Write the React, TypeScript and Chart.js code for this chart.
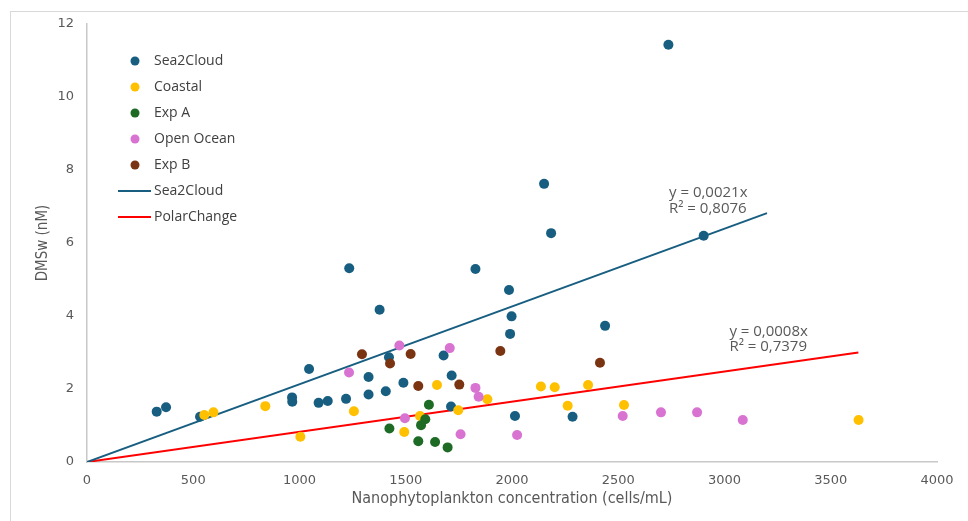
import { useEffect, useRef } from 'react';
import { Chart, registerables } from 'chart.js';

Chart.register(...registerables);

// ---------- data ----------
const seriesNames = ['Sea2Cloud', 'Coastal', 'Exp A', 'Open Ocean', 'Exp B'];
const seriesColors = ['#175e80', '#ffc000', '#1e6b26', '#d873d2', '#7a3412'];

const sea2cloudX = [328, 372, 532, 965, 966, 1045, 1090, 1133, 1219, 1234, 1325, 1325, 1377, 1406, 1421, 1489, 1678, 1716, 1713, 1828, 1986, 1998, 1991, 2014, 2151, 2184, 2285, 2438, 2736, 2902];
const sea2cloudY = [1.38, 1.50, 1.24, 1.77, 1.65, 2.55, 1.62, 1.67, 1.73, 5.31, 2.33, 1.85, 4.17, 1.94, 2.87, 2.17, 2.92, 2.37, 1.52, 5.29, 4.71, 3.99, 3.51, 1.26, 7.62, 6.27, 1.24, 3.73, 11.43, 6.20];

const coastalX = [552, 595, 839, 1004, 1256, 1493, 1567, 1647, 1747, 1884, 2136, 2201, 2262, 2358, 2527, 3631];
const coastalY = [1.29, 1.36, 1.53, 0.69, 1.39, 0.82, 1.26, 2.11, 1.42, 1.72, 2.07, 2.05, 1.54, 2.11, 1.56, 1.15];

const expAX = [1423, 1559, 1572, 1592, 1609, 1638, 1697];
const expAY = [0.92, 0.57, 1.01, 1.17, 1.57, 0.55, 0.40];

const openOceanX = [1233, 1470, 1496, 1707, 1758, 1828, 1843, 2024, 2521, 2701, 2871, 3086];
const openOceanY = [2.45, 3.19, 1.20, 3.12, 0.76, 2.03, 1.79, 0.74, 1.26, 1.36, 1.36, 1.15];

const expBX = [1294, 1426, 1523, 1559, 1752, 1945, 2414];
const expBY = [2.95, 2.70, 2.96, 2.08, 2.12, 3.04, 2.72];

const trendNames = ['Sea2Cloud', 'PolarChange'];
const trendColors = ['#175e80', '#ff0000'];
const sea2cloudTrendX = [0, 3200];
const sea2cloudTrendY = [0, 6.82];
const polarTrendX = [0, 3630];
const polarTrendY = [0, 3.0];
const trendLabels = [
  ['y = 0,0021x', 'R² = 0,8076'],
  ['y = 0,0008x', 'R² = 0,7379'],
];

const xTicks = [0, 500, 1000, 1500, 2000, 2500, 3000, 3500, 4000];
const yTicks = [0, 2, 4, 6, 8, 10, 12];
const xTitle = 'Nanophytoplankton concentration (cells/mL)';
const yTitle = 'DMSw (nM)';

// ---------- helpers ----------
const pts = (xs: number[], ys: number[]) => xs.map((x, i) => ({ x, y: ys[i] }));

const TICK_FONT = "'DejaVu Sans', sans-serif";
const TITLE_FONT = "'DejaVu Sans Condensed', 'Liberation Sans Narrow', sans-serif";
const TEXT_FONT = "'Open Sans', 'DejaVu Sans', sans-serif";

const legendPlugin = {
  id: 'customLegend',
  afterDraw(chart: any) {
    const ctx = chart.ctx;
    const a = chart.chartArea;
    const x0 = a.left + 48;
    const y0 = a.top + 37;
    const step = 26;
    ctx.save();
    ctx.font = `14px ${TEXT_FONT}`;
    ctx.textBaseline = 'middle';
    ctx.textAlign = 'left';
    seriesNames.forEach((n, i) => {
      const y = y0 + i * step;
      ctx.fillStyle = seriesColors[i];
      ctx.beginPath();
      ctx.arc(x0, y, 4.5, 0, Math.PI * 2);
      ctx.fill();
      ctx.fillStyle = '#404040';
      ctx.fillText(n, x0 + 19, y);
    });
    trendNames.forEach((n, i) => {
      const y = y0 + (seriesNames.length + i) * step;
      ctx.strokeStyle = trendColors[i];
      ctx.lineWidth = 2;
      ctx.beginPath();
      ctx.moveTo(x0 - 17, y);
      ctx.lineTo(x0 + 16, y);
      ctx.stroke();
      ctx.fillStyle = '#404040';
      ctx.fillText(n, x0 + 19, y);
    });
    ctx.restore();
  },
};

const trendLabelOffsets = [
  { dx: -98, dy: -20 },
  { dx: -129, dy: -21 },
];
const trendEnds = [
  { x: sea2cloudTrendX[1], y: sea2cloudTrendY[1] },
  { x: polarTrendX[1], y: polarTrendY[1] },
];

const annotationPlugin = {
  id: 'trendLabels',
  afterDraw(chart: any) {
    const ctx = chart.ctx;
    const xs = chart.scales.x;
    const ys = chart.scales.y;
    ctx.save();
    ctx.font = `15px ${TEXT_FONT}`;
    ctx.fillStyle = '#595959';
    ctx.textBaseline = 'middle';
    ctx.textAlign = 'left';
    trendEnds.forEach((e, i) => {
      const px = xs.getPixelForValue(e.x) + trendLabelOffsets[i].dx;
      const py = ys.getPixelForValue(e.y) + trendLabelOffsets[i].dy;
      trendLabels[i].forEach((t, j) => ctx.fillText(t, px, py + j * 15.5));
    });
    ctx.restore();
  },
};

export default function App() {
  const ref = useRef<HTMLCanvasElement | null>(null);

  useEffect(() => {
    if (!ref.current) return;
    const scatterSets = [
      [sea2cloudX, sea2cloudY],
      [coastalX, coastalY],
      [expAX, expAY],
      [openOceanX, openOceanY],
      [expBX, expBY],
    ].map(([xs, ys], i) => ({
      type: 'scatter' as const,
      label: seriesNames[i],
      data: pts(xs, ys),
      backgroundColor: seriesColors[i],
      borderColor: seriesColors[i],
      pointRadius: 5,
      pointBorderWidth: 0,
      order: 5 - i,
    }));
    const lineSets = [
      [sea2cloudTrendX, sea2cloudTrendY],
      [polarTrendX, polarTrendY],
    ].map(([xs, ys], i) => ({
      type: 'line' as const,
      label: trendNames[i],
      data: pts(xs, ys),
      borderColor: trendColors[i],
      backgroundColor: trendColors[i],
      borderWidth: 2,
      pointRadius: 0,
      fill: false,
      order: 10 + i,
    }));

    const chart = new Chart(ref.current, {
      type: 'scatter',
      data: { datasets: [...scatterSets, ...lineSets] as any },
      options: {
        animation: false,
        responsive: false,
        layout: { padding: { left: 0, top: 24, right: 31, bottom: 0 } },
        plugins: { legend: { display: false }, tooltip: { enabled: false } },
        scales: {
          x: {
            type: 'linear',
            min: 0,
            max: 4000,
            afterBuildTicks: (s: any) => { s.ticks = xTicks.map((v) => ({ value: v })); },
            grid: { display: false, drawTicks: false },
            border: { display: true, color: '#c8c8c8', width: 1.5 },
            ticks: { color: '#595959', font: { size: 13, family: TICK_FONT }, padding: 11, maxRotation: 0, callback: (v: any) => String(v) },
            title: { display: true, text: xTitle, color: '#595959', font: { size: 16, family: TITLE_FONT }, padding: { top: 0, bottom: 13 } },
            afterFit: (s: any) => { s.height = 59; },
          },
          y: {
            type: 'linear',
            min: 0,
            max: 12,
            afterBuildTicks: (s: any) => { s.ticks = yTicks.map((v) => ({ value: v })); },
            grid: { display: false, drawTicks: false },
            border: { display: true, color: '#c8c8c8', width: 1.5 },
            ticks: { color: '#595959', font: { size: 13, family: TICK_FONT }, padding: 13, callback: (v: any) => String(v) },
            title: { display: true, text: yTitle, color: '#595959', font: { size: 15, family: TITLE_FONT }, padding: { top: 34, bottom: 0 } },
            afterFit: (s: any) => { s.width = 87; },
          },
        },
      },
      plugins: [legendPlugin, annotationPlugin],
    } as any);
    return () => chart.destroy();
  }, []);

  return (
    <div style={{ position: 'absolute', left: 0, top: 0, width: 968, height: 521, background: '#fff', overflow: 'hidden' }}>
      <div style={{ position: 'absolute', left: 10, top: 11, width: 970, height: 520, borderTop: '1px solid #d9d9d9', borderLeft: '1px solid #d9d9d9' }} />
      <canvas ref={ref} width={968} height={521} style={{ position: 'absolute', left: 0, top: 0 }} />
    </div>
  );
}
